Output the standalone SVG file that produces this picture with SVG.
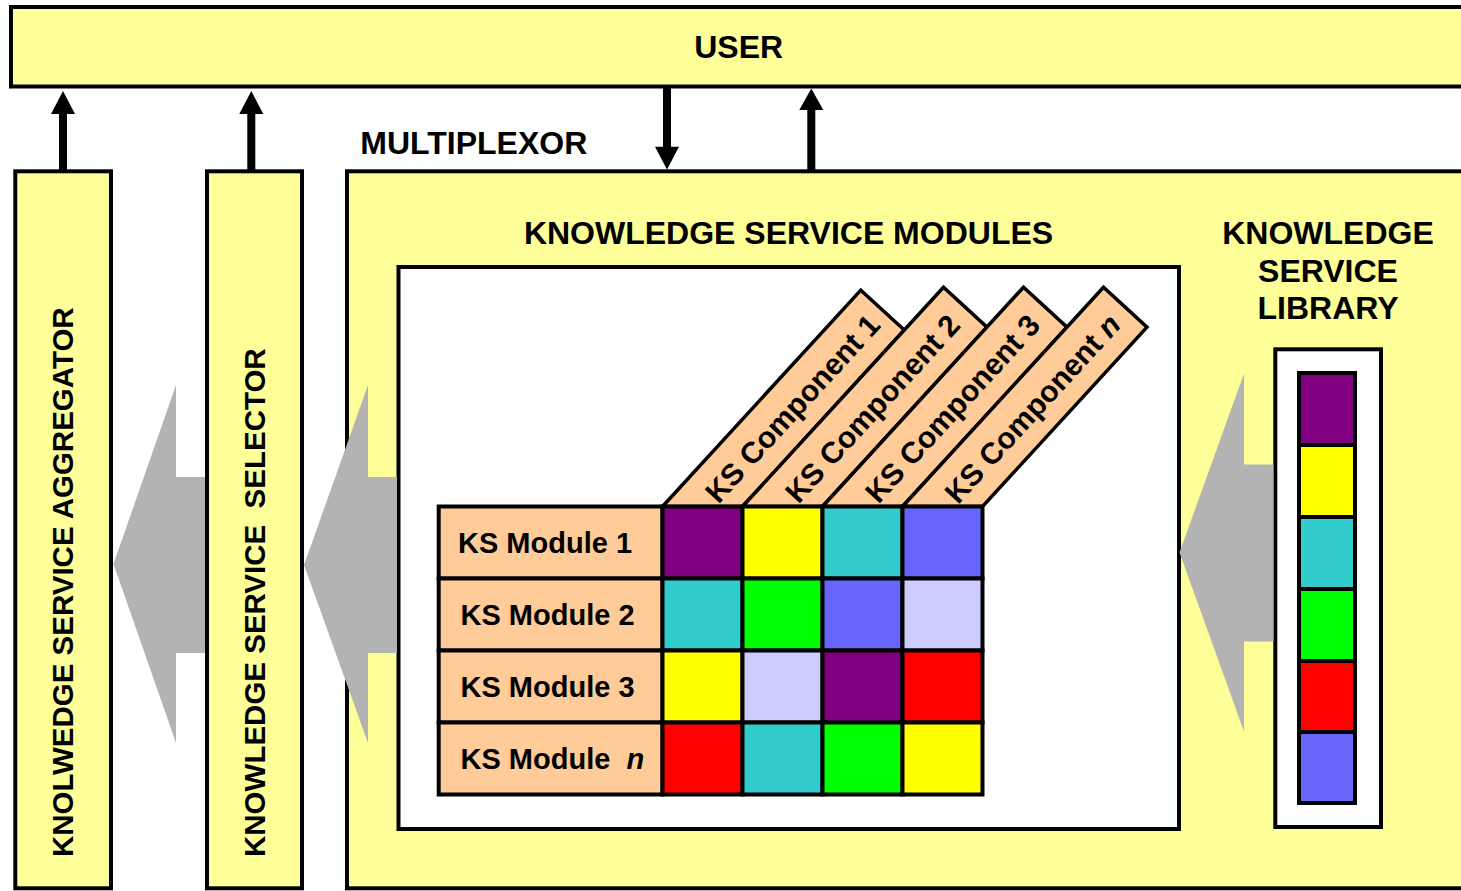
<svg xmlns="http://www.w3.org/2000/svg" width="1461" height="891" viewBox="0 0 1461 891">
<style>
.box{fill:#FFFF99;stroke:#000;stroke-width:4}
.wbox{fill:#FFFFFF;stroke:#000;stroke-width:4}
.cell{stroke:#000;stroke-width:4}
.band{fill:#FFCC99;stroke:#000;stroke-width:3.5;stroke-linejoin:miter}
.t{font-family:"Liberation Sans",Arial,sans-serif;font-weight:bold;fill:#000}
.title{font-size:32px}
.vert{font-size:29.5px}
.mod{font-size:29px}
.comp{font-size:30px}
.gray{fill:#B3B3B3}
.blk{fill:#000}
.pu{fill:#800080}.ye{fill:#FFFF00}.cy{fill:#33CCCC}.bl{fill:#6666FF}.gr{fill:#00FF00}.la{fill:#CCCCFF}.re{fill:#FF0000}.pe{fill:#FFCC99}
</style>
<rect width="1461" height="891" fill="#FFFFFF"/>

<g id="user">
<rect class="box" x="11" y="7" width="1470" height="79.5"/>
<text class="t title" x="738.7" y="58.3" text-anchor="middle">USER</text>
</g>

<g id="aggregator">
<rect class="box" x="15.3" y="171.3" width="95.7" height="717"/>
<text class="t vert" transform="translate(73.3,857) rotate(-90)">KNOLWEDGE SERVICE AGGREGATOR</text>
</g>

<g id="selector">
<rect class="box" x="207" y="171.3" width="95" height="717"/>
<text class="t vert" transform="translate(265,857) rotate(-90)">KNOWLEDGE SERVICE&#160; SELECTOR</text>
</g>

<g id="multiplexor">
<rect class="box" x="347" y="171.3" width="1130" height="717"/>
<text class="t title" x="360.3" y="154.3">MULTIPLEXOR</text>
</g>

<g id="ks-modules">
<text class="t title" x="788.5" y="243.5" text-anchor="middle">KNOWLEDGE SERVICE MODULES</text>
<rect class="wbox" x="398.5" y="267" width="780.5" height="562"/>
</g>

<g id="ks-components">
<g id="ks-component-1">
<polygon class="band" points="662.5,506.5 860.8,290.1 904.3,330 742.5,506.5"/>
<text class="t comp" transform="translate(662.5,506.5) rotate(-47.5)" x="160" y="40" text-anchor="middle">KS Component 1</text>
</g>
<g id="ks-component-2">
<polygon class="band" points="742.5,506.5 943.5,287.2 987,327.1 822.5,506.5"/>
<text class="t comp" transform="translate(742.5,506.5) rotate(-47.5)" x="160" y="40" text-anchor="middle">KS Component 2</text>
</g>
<g id="ks-component-3">
<polygon class="band" points="822.5,506.5 1023.5,287.2 1067,327.1 902.5,506.5"/>
<text class="t comp" transform="translate(822.5,506.5) rotate(-47.5)" x="160" y="40" text-anchor="middle">KS Component 3</text>
</g>
<g id="ks-component-n">
<polygon class="band" points="902.5,506.5 1103.5,287.2 1147,327.1 982.5,506.5"/>
<text class="t comp" transform="translate(902.5,506.5) rotate(-47.5)" x="160" y="40" text-anchor="middle">KS Component <tspan font-style="italic">n</tspan></text>
</g>
</g>

<g id="ks-grid">
<g id="ks-module-1">
<rect class="cell pe" x="438.7" y="506.5" width="223.8" height="72"/>
<text class="t mod" x="458" y="553">KS Module 1</text>
<rect class="cell pu" x="662.5" y="506.5" width="80" height="72"/>
<rect class="cell ye" x="742.5" y="506.5" width="80" height="72"/>
<rect class="cell cy" x="822.5" y="506.5" width="80" height="72"/>
<rect class="cell bl" x="902.5" y="506.5" width="80" height="72"/>
</g>
<g id="ks-module-2">
<rect class="cell pe" x="438.7" y="578.5" width="223.8" height="72"/>
<text class="t mod" x="460.5" y="625">KS Module 2</text>
<rect class="cell cy" x="662.5" y="578.5" width="80" height="72"/>
<rect class="cell gr" x="742.5" y="578.5" width="80" height="72"/>
<rect class="cell bl" x="822.5" y="578.5" width="80" height="72"/>
<rect class="cell la" x="902.5" y="578.5" width="80" height="72"/>
</g>
<g id="ks-module-3">
<rect class="cell pe" x="438.7" y="650.5" width="223.8" height="72"/>
<text class="t mod" x="460.5" y="697">KS Module 3</text>
<rect class="cell ye" x="662.5" y="650.5" width="80" height="72"/>
<rect class="cell la" x="742.5" y="650.5" width="80" height="72"/>
<rect class="cell pu" x="822.5" y="650.5" width="80" height="72"/>
<rect class="cell re" x="902.5" y="650.5" width="80" height="72"/>
</g>
<g id="ks-module-n">
<rect class="cell pe" x="438.7" y="722.5" width="223.8" height="72"/>
<text class="t mod" x="460.5" y="769">KS Module&#160; <tspan font-style="italic">n</tspan></text>
<rect class="cell re" x="662.5" y="722.5" width="80" height="72"/>
<rect class="cell cy" x="742.5" y="722.5" width="80" height="72"/>
<rect class="cell gr" x="822.5" y="722.5" width="80" height="72"/>
<rect class="cell ye" x="902.5" y="722.5" width="80" height="72"/>
</g>
</g>

<g id="ks-library">
<text class="t title" x="1328" y="244.3" text-anchor="middle">KNOWLEDGE</text>
<text class="t title" x="1328" y="282" text-anchor="middle">SERVICE</text>
<text class="t title" x="1328" y="319" text-anchor="middle">LIBRARY</text>
<rect class="wbox" x="1275.3" y="349.3" width="105.7" height="477.7"/>
<rect class="cell pu" x="1299" y="373" width="56" height="72"/>
<rect class="cell ye" x="1299" y="445" width="56" height="72"/>
<rect class="cell cy" x="1299" y="517" width="56" height="72"/>
<rect class="cell gr" x="1299" y="589" width="56" height="72"/>
<rect class="cell re" x="1299" y="661" width="56" height="71"/>
<rect class="cell bl" x="1299" y="732" width="56" height="71"/>
</g>

<g id="connectors">
<path class="blk" d="M59,170 V114 H51 L63,91 L75,114 H67 V170 Z"/>
<path class="blk" d="M247.3,170 V114 H239.3 L251.3,91 L263.3,114 H255.3 V170 Z"/>
<path class="blk" d="M663,88 V146.7 H655 L667,169.5 L679,146.7 H671 V88 Z"/>
<path class="blk" d="M807.3,170 V110 H799.3 L811.3,88.5 L823.3,110 H815.3 V170 Z"/>
<polygon class="gray" points="113.5,564 176,385 176,477 205,477 205,653 176,653 176,743"/>
<polygon class="gray" points="304,565 368,385 368,477 397,477 397,653 368,653 368,743"/>
<polygon class="gray" points="1179.5,552.5 1244,373.5 1244,464.5 1273.5,464.5 1273.5,641.5 1244,641.5 1244,731.5"/>
</g>
</svg>
